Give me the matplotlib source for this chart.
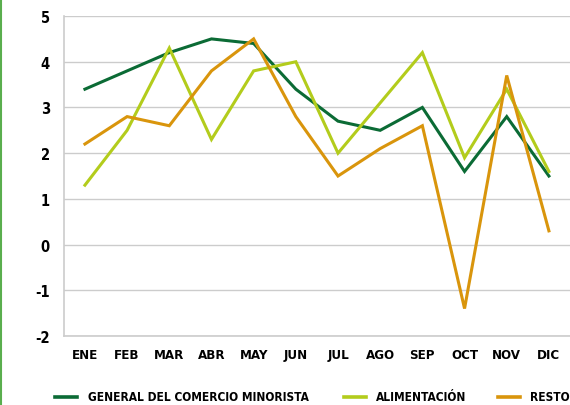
import matplotlib
matplotlib.use("Agg")
import matplotlib.pyplot as plt
from matplotlib.lines import Line2D

meses = ['ENE', 'FEB', 'MAR', 'ABR', 'MAY', 'JUN', 'JUL', 'AGO', 'SEP', 'OCT', 'NOV', 'DIC']
general = [3.4, 3.8, 4.2, 4.5, 4.4, 3.4, 2.7, 2.5, 3.0, 1.6, 2.8, 1.5]
alimentacion = [1.3, 2.5, 4.3, 2.3, 3.8, 4.0, 2.0, 3.1, 4.2, 1.9, 3.4, 1.6]
resto = [2.2, 2.8, 2.6, 3.8, 4.5, 2.8, 1.5, 2.1, 2.6, -1.4, 3.7, 0.3]
nombres = ['GENERAL DEL COMERCIO MINORISTA', 'ALIMENTACIÓN', 'RESTO']
colores = ['#0b6b35', '#b3cc1c', '#d9950c']

plt.rcParams['font.family'] = ['DejaVu Sans']
plt.rcParams['font.stretch'] = 'condensed'
plt.rcParams['axes.unicode_minus'] = False

fig = plt.figure(figsize=(5.7, 4.06), dpi=100)
ax = fig.add_axes([0.112, 0.170, 0.888, 0.788])

x = list(range(len(meses)))
for serie, c in zip([general, alimentacion, resto], colores):
    ax.plot(x, serie, color=c, lw=2.2, solid_joinstyle='miter')

ax.set_xlim(-0.5, 11.5)
ax.set_ylim(-2, 5)
ax.set_yticks(range(-2, 6))
ax.set_xticks(x)
ax.set_xticklabels(meses)
ax.grid(axis='y', color='#cccccc', lw=1)
ax.set_axisbelow(True)
for s in ['top', 'right']:
    ax.spines[s].set_visible(False)
for s in ['left', 'bottom']:
    ax.spines[s].set_color('#cccccc')
    ax.spines[s].set_linewidth(1.2)
ax.tick_params(length=0)
ax.tick_params(axis='x', pad=9, labelsize=9.5)
ax.tick_params(axis='y', pad=10, labelsize=10.5)
for t in ax.get_xticklabels() + ax.get_yticklabels():
    t.set_fontweight('bold')
    t.set_fontstretch('condensed')

# leyenda colocada a mano
ley_y = 1 - 398 / 406
ley_x = [(0.0965, 0.135, 0.154), (0.604, 0.642, 0.660), (0.874, 0.912, 0.930)]
for (x0, x1, xt), nombre, c in zip(ley_x, nombres, colores):
    fig.add_artist(Line2D([x0, x1], [ley_y, ley_y], color=c, lw=2.6, transform=fig.transFigure))
    fig.text(xt, ley_y, nombre, ha='left', va='center', fontsize=8.6, fontweight='bold',
             fontstretch='condensed')

# borde verde a la izquierda
fig.add_artist(Line2D([0.002, 0.002], [0, 1], color='#5aae4e', lw=1.5, transform=fig.transFigure))

fig.savefig('out.png', dpi=100)
